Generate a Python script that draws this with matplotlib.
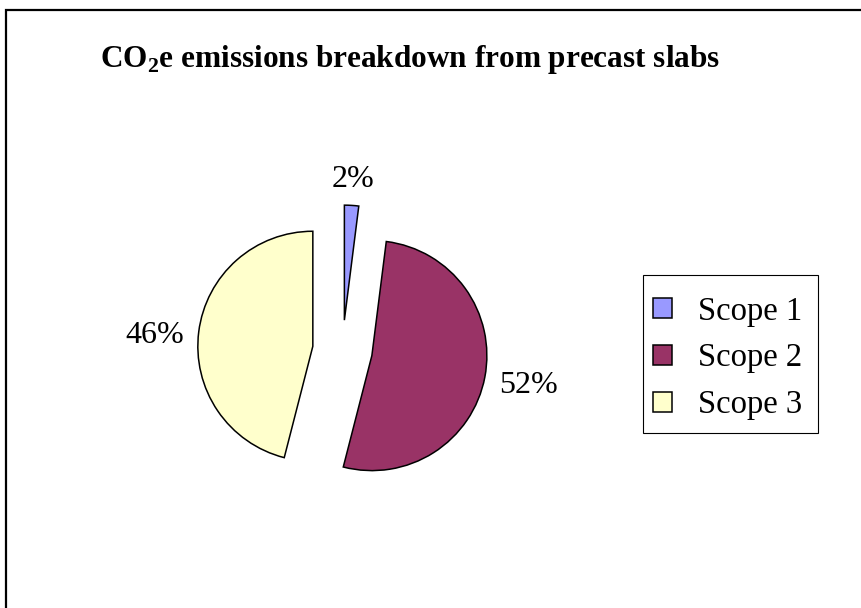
import numpy as np
import matplotlib
matplotlib.use("Agg")
import matplotlib.pyplot as plt
from matplotlib.patches import Rectangle

plt.rcParams["font.family"] = ["Liberation Serif", "DejaVu Serif"]
plt.rcParams["mathtext.fontset"] = "custom"
plt.rcParams["mathtext.rm"] = "Liberation Serif"
plt.rcParams["mathtext.bf"] = "Liberation Serif:bold"

# Emission shares by scope (percent)
categories = ["Scope 1", "Scope 2", "Scope 3"]
shares = [2, 52, 46]
colors = ["#9999FF", "#993366", "#FFFFCC"]
title = r"CO$_\mathbf{2}$e emissions breakdown from precast slabs"

W, H = 861, 608
fig = plt.figure(figsize=(W / 100, H / 100), dpi=100)


def fx(px):
    return px / W


def fy(py):
    return 1 - py / H


# Chart-area frame (extends past the right and bottom edges)
fig.patches.append(Rectangle((fx(6), fy(H + 20)), (W + 20) / W, (H + 10) / H,
                             transform=fig.transFigure, fill=False,
                             edgecolor="black", linewidth=1.6))

ax = fig.add_axes([fx(112.5), fy(580), 460 / W, 460 / H])

wedges, _ = ax.pie(shares, colors=colors, startangle=90, counterclock=False,
                   explode=[0.26] * len(shares), radius=1,
                   wedgeprops=dict(edgecolor="black", linewidth=1.1))
ax.set_xlim(-2, 2)
ax.set_ylim(-2, 2)
ax.set_aspect("equal")
ax.axis("off")

# Percentage labels just outside each exploded slice
for w, v in zip(wedges, shares):
    ang = np.deg2rad((w.theta1 + w.theta2) / 2)
    dx, dy = np.cos(ang), np.sin(ang)
    cx, cy = w.center
    if abs(dx) > abs(dy):
        d = 1.13 * w.r
        ha, va = ("left" if dx > 0 else "right"), "center_baseline"
        x, y = cx + d * dx, cy + d * dy - 0.02
    else:
        d = 1.16 * w.r
        ha, va = "center", ("baseline" if dy > 0 else "top")
        x, y = cx + d * dx, cy + d * dy
    ax.text(x, y, f"{v:.0f}%", ha=ha, va=va, fontsize=23, color="black")

fig.text(fx(100), fy(67), title, ha="left", va="baseline",
         fontsize=22.5, fontweight="bold")

# Legend box
fig.patches.append(Rectangle((fx(643), fy(433)), 175 / W, 158 / H,
                             transform=fig.transFigure, fill=True,
                             facecolor="white", edgecolor="black",
                             linewidth=0.8))
leg = fig.legend(wedges, categories, loc="upper left",
                 bbox_to_anchor=(fx(640), fy(283)), frameon=False,
                 prop={"size": 23.5}, handlelength=0.58, handleheight=0.58,
                 handletextpad=0.8, labelspacing=0.5, borderpad=0.4,
                 borderaxespad=0)

fig.savefig("out.png", dpi=100, facecolor="white")
